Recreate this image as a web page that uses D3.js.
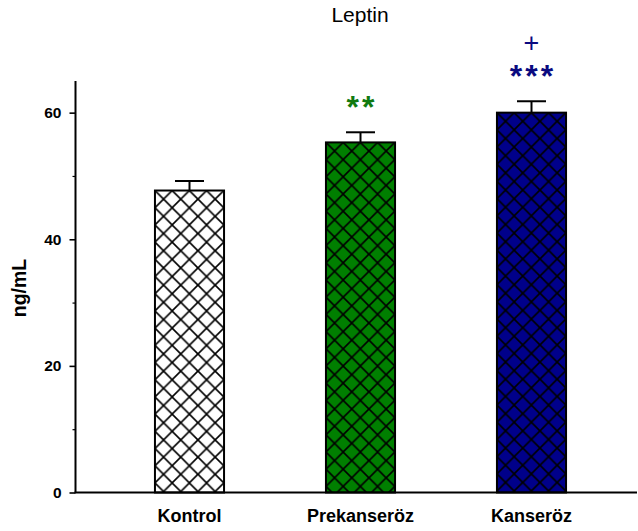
<!DOCTYPE html>
<html>
<head>
<meta charset="utf-8">
<script src="https://cdn.jsdelivr.net/npm/d3@7"></script>
<style>
  html, body { margin: 0; padding: 0; background: #fff; }
  svg { display: block; }
  text { font-family: "Liberation Sans", Arial, Helvetica, sans-serif; }
</style>
</head>
<body>
<svg id="chart" width="638" height="531"></svg>
<script>
const categories = ["Kontrol", "Prekanseröz", "Kanseröz"];
const means = [47.7, 55.3, 60.0];
const errors = [1.5, 1.6, 1.8];
const barColors = ["#ffffff", "#007f00", "#00008a"];
const sigStars = ["", "**", "***"];
const sigPlus = ["", "", "+"];
const sigColors = ["#000000", "#107a10", "#0a0a80"];
const yTicks = [0, 20, 40, 60];
const yMinorTicks = [10, 30, 50];
const title = "Leptin";
const yLabel = "ng/mL";

const svg = d3.select("#chart");
const axisX0 = 75.5, axisX1 = 637, yTop = 81, yBottom = 492.5;

const x = d3.scaleBand().domain(categories).range([104, 617]).paddingInner(0.596).paddingOuter(0.298);
const y = d3.scaleLinear().domain([0, 65]).range([yBottom, yTop]);

const data = categories.map((c, i) => ({ c, i, m: means[i], e: errors[i], col: barColors[i] }));

// patterns
const defs = svg.append("defs");
const S = 17.2;
data.forEach(d => {
  const p = defs.append("pattern")
    .attr("id", "hatch" + d.i)
    .attr("patternUnits", "userSpaceOnUse")
    .attr("x", x(d.c))
    .attr("y", y(d.m))
    .attr("width", S).attr("height", S);
  p.append("rect").attr("width", S).attr("height", S).attr("fill", d.col);
  [[-1, -1, S + 1, S + 1], [S + 1, -1, -1, S + 1]].forEach(l => {
    p.append("line").attr("x1", l[0]).attr("y1", l[1]).attr("x2", l[2]).attr("y2", l[3])
      .attr("stroke", "#000").attr("stroke-width", 1.6);
  });
});

// bars
svg.append("g").selectAll("rect").data(data).join("rect")
  .attr("x", d => x(d.c))
  .attr("y", d => y(d.m))
  .attr("width", x.bandwidth())
  .attr("height", d => y(0) - y(d.m))
  .attr("fill", d => `url(#hatch${d.i})`)
  .attr("stroke", "#000")
  .attr("stroke-width", 2);

// error bars
const eg = svg.append("g").attr("stroke", "#000").attr("stroke-width", 2);
data.forEach(d => {
  const cx = x(d.c) + x.bandwidth() / 2;
  eg.append("line").attr("x1", cx).attr("x2", cx).attr("y1", y(d.m)).attr("y2", y(d.m + d.e));
  eg.append("line").attr("x1", cx - 14.5).attr("x2", cx + 14.5).attr("y1", y(d.m + d.e)).attr("y2", y(d.m + d.e));
});

// y axis
const yAxis = d3.axisLeft(y).tickValues(yTicks).tickSize(6).tickPadding(8).tickFormat(d3.format("d"));
const gy = svg.append("g").attr("transform", `translate(${axisX0},0)`).call(yAxis);
gy.select(".domain").remove();
gy.selectAll(".tick line").attr("stroke", "#000").attr("stroke-width", 1.6);
gy.selectAll(".tick text").attr("font-size", 15.5).attr("font-weight", "bold").attr("fill", "#000")
  .attr("font-family", "'Liberation Sans', Arial, sans-serif");
const yMinor = d3.axisLeft(y).tickValues(yMinorTicks).tickSize(3).tickFormat("");
const gym = svg.append("g").attr("transform", `translate(${axisX0},0)`).call(yMinor);
gym.select(".domain").remove();
gym.selectAll(".tick line").attr("stroke", "#000").attr("stroke-width", 1.2);

svg.append("line").attr("x1", axisX0).attr("x2", axisX0).attr("y1", yTop).attr("y2", yBottom)
  .attr("stroke", "#000").attr("stroke-width", 2);

// x axis
const xAxis = d3.axisBottom(x).tickSize(0).tickPadding(17);
const gx = svg.append("g").attr("transform", `translate(0,${yBottom})`).call(xAxis);
gx.select(".domain").remove();
gx.selectAll(".tick text").attr("font-size", 18).attr("font-weight", "bold").attr("fill", "#000")
  .attr("font-family", "'Liberation Sans', Arial, sans-serif");
svg.append("line").attr("x1", axisX0 - 1).attr("x2", axisX1).attr("y1", yBottom).attr("y2", yBottom)
  .attr("stroke", "#000").attr("stroke-width", 2);

// significance
data.forEach(d => {
  const cx = x(d.c) + x.bandwidth() / 2;
  const top = y(d.m + d.e);
  if (sigStars[d.i]) {
    svg.append("text").attr("x", cx + 1.5).attr("y", top - 32 + 18)
      .attr("text-anchor", "middle").attr("font-size", 32).attr("font-weight", "bold")
      .attr("letter-spacing", 3)
      .attr("fill", sigColors[d.i]).text(sigStars[d.i]);
  }
  if (sigPlus[d.i]) {
    svg.append("text").attr("x", cx).attr("y", top - 58.5 + 9)
      .attr("text-anchor", "middle").attr("font-size", 27)
      .attr("fill", sigColors[d.i]).text(sigPlus[d.i]);
  }
});

// title
svg.append("text").attr("x", 360).attr("y", 22).attr("text-anchor", "middle")
  .attr("font-size", 21).attr("fill", "#000").text(title);

// y label
svg.append("text").attr("transform", "translate(26,288) rotate(-90)").attr("text-anchor", "middle")
  .attr("font-size", 19.5).attr("font-weight", "bold").attr("fill", "#000").text(yLabel);
</script>
</body>
</html>
